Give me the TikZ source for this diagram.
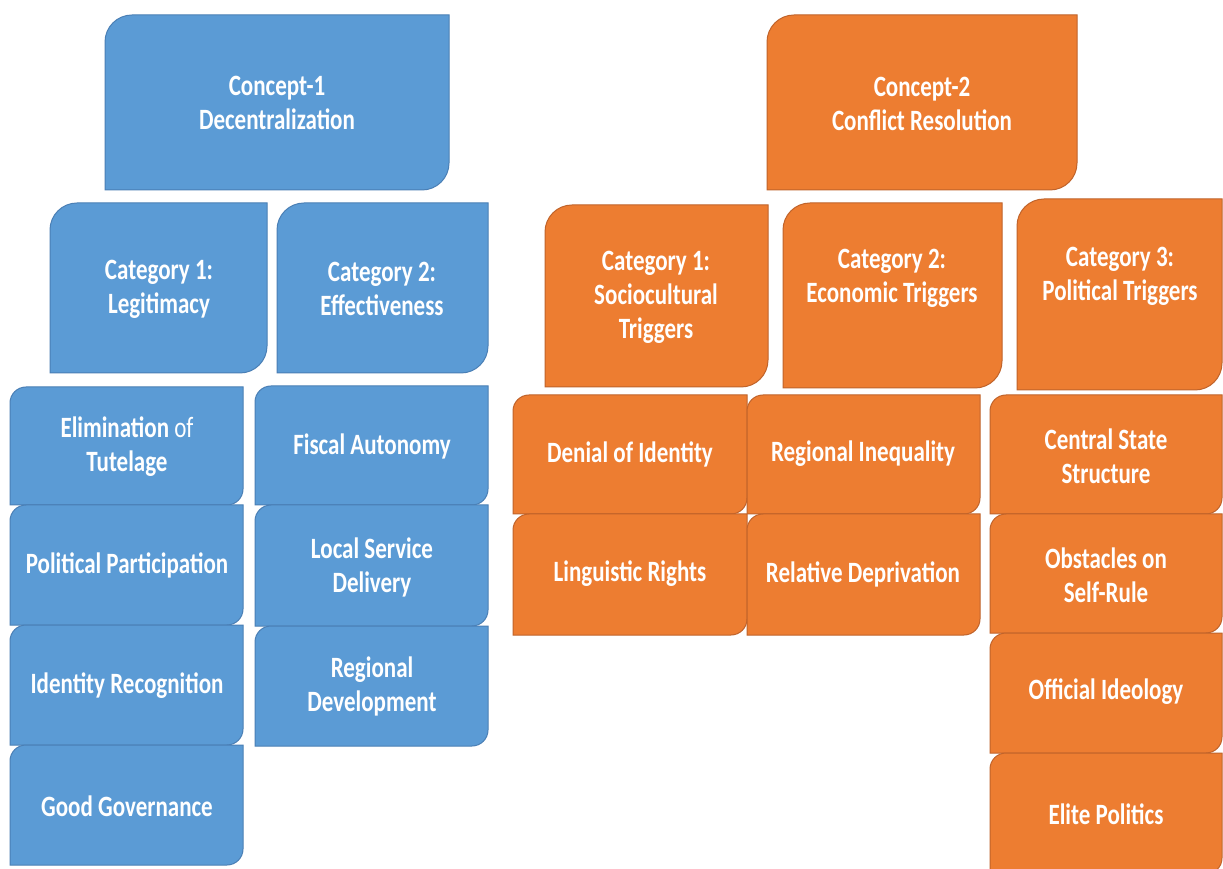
\documentclass[tikz,border=0pt]{standalone}
\usepackage{fontspec}
\newfontfamily\tilefont[FakeStretch=0.78]{Carlito}
\definecolor{boxblue}{HTML}{5B9BD5}
\definecolor{edgeblue}{HTML}{4A7FB5}
\definecolor{boxorange}{HTML}{ED7D31}
\definecolor{edgeorange}{HTML}{C0632A}

% A tile with rounded top-left and bottom-right corners.
% #1 style, #2 left, #3 top, #4 right, #5 bottom, #6 radius (top/bottom measured downwards)
\newcommand\tile[6]{%
  \path[#1] (#2,868-#5) -- (#2,868-#3-#6)
    arc[start angle=180,end angle=90,radius=#6] -- (#4,868-#3)
    -- (#4,868-#5+#6) arc[start angle=0,end angle=-90,radius=#6] -- cycle;
}

\tikzset{
  bluetile/.style={fill=boxblue, draw=edgeblue, line width=1pt},
  orangetile/.style={fill=boxorange, draw=edgeorange, line width=1pt},
  tiletext/.style={text=white, align=center, inner sep=0pt,
    font=\tilefont\bfseries\fontsize{29.5}{34}\selectfont},
}

\begin{document}
\begin{tikzpicture}[x=1pt,y=1pt]
\useasboundingbox[fill=white] (0,0) rectangle (1223,868);

% ---- Concept 1: Decentralization ----
\tile{bluetile}{105}{15}{449}{190}{27}
\tile{bluetile}{50}{203}{267}{373}{27}
\tile{bluetile}{277}{203}{488}{373}{27}
\tile{bluetile}{10}{387}{243}{505}{16}
\tile{bluetile}{10}{505}{243}{625}{16}
\tile{bluetile}{10}{625}{243}{745}{16}
\tile{bluetile}{10}{745}{243}{865}{16}
\tile{bluetile}{255}{386}{488}{505}{16}
\tile{bluetile}{255}{505}{488}{626}{16}
\tile{bluetile}{255}{626}{488}{746}{16}

\node[tiletext] (c1) at (277,868-103) {Concept-1\\Decentralization};
\node[tiletext] (leg) at (159,868-289) {Category 1:\\Legitimacy};
\node[tiletext] (eff) at (382,868-289) {Category 2:\\Effectiveness};
\node[tiletext] (elim) at (127,868-447) {Elimination {\mdseries of}\\Tutelage};
\node[tiletext] (part) at (127,868-565) {Political Participation};
\node[tiletext] (ident) at (127,868-686) {Identity Recognition};
\node[tiletext] (gov) at (127,868-806) {Good Governance};
\node[tiletext] (fisc) at (372,868-446) {Fiscal Autonomy};
\node[tiletext] (serv) at (372,868-567) {Local Service\\Delivery};
\node[tiletext] (regdev) at (372,868-686) {Regional\\Development};

% ---- Concept 2: Conflict Resolution ----
\tile{orangetile}{767}{15}{1077}{190}{27}
\tile{orangetile}{545}{205}{768}{387}{27}
\tile{orangetile}{783}{203}{1002}{388}{27}
\tile{orangetile}{1017}{199}{1222}{390}{27}
\tile{orangetile}{513}{395}{747}{514}{16}
\tile{orangetile}{513}{514}{747}{635}{16}
\tile{orangetile}{747}{395}{980}{514}{16}
\tile{orangetile}{747}{514}{980}{635}{16}
\tile{orangetile}{990}{395}{1222}{514}{16}
\tile{orangetile}{990}{514}{1222}{633}{16}
\tile{orangetile}{990}{633}{1222}{753}{16}
\tile{orangetile}{990}{753}{1222}{874}{16}

\node[tiletext] (c2) at (922,868-104) {Concept-2\\Conflict Resolution};
\node[tiletext] (socio) at (656,868-297) {Category 1:\\Sociocultural\\Triggers};
\node[tiletext] (econ) at (892,868-278) {Category 2:\\Economic Triggers};
\node[tiletext] (polit) at (1120,868-276) {Category 3:\\Political Triggers};
\node[tiletext] (denial) at (630,868-454) {Denial of Identity};
\node[tiletext] (ling) at (630,868-574) {Linguistic Rights};
\node[tiletext] (ineq) at (863,868-454) {Regional Inequality};
\node[tiletext] (depr) at (863,868-574) {Relative Deprivation};
\node[tiletext] (state) at (1106,868-456) {Central State\\Structure};
\node[tiletext] (self) at (1106,868-575) {Obstacles on\\Self-Rule};
\node[tiletext] (ideo) at (1106,868-692) {Official Ideology};
\node[tiletext] (elite) at (1106,868-814) {Elite Politics};
\end{tikzpicture}
\end{document}
